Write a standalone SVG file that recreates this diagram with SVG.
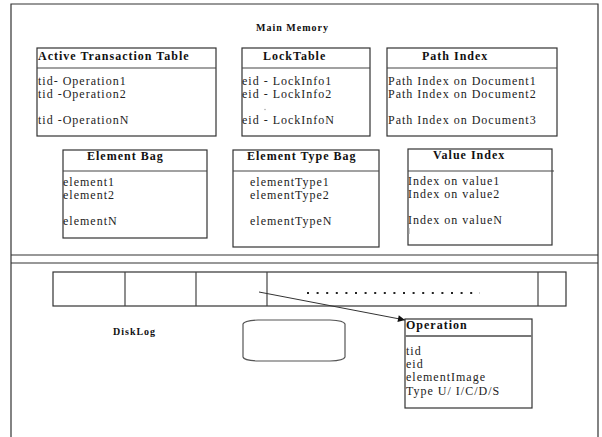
<svg xmlns="http://www.w3.org/2000/svg" width="602" height="437" viewBox="0 0 602 437">
  <defs>
    <style>
      .frame { stroke: #333; stroke-width: 1.2; fill: none; }
      .box { fill: #fff; stroke: #333; stroke-width: 1.2; }
      .sep { stroke: #444; stroke-width: 1.2; }
      .hd { font-family: "Liberation Serif", "Times New Roman", serif; font-weight: bold; font-size: 12px; letter-spacing: 1px; fill: #111; }
      .tx { font-family: "Liberation Serif", "Times New Roman", serif; font-size: 12px; letter-spacing: 1px; fill: #222; }
      .lbl { font-family: "Liberation Serif", "Times New Roman", serif; font-weight: bold; font-size: 10px; letter-spacing: 1px; fill: #111; }
      .conn { stroke: #333; stroke-width: 1; fill: none; }
    </style>
    <marker id="arrow" viewBox="0 0 10 10" refX="10" refY="5" markerWidth="10" markerHeight="7" markerUnits="userSpaceOnUse" orient="auto">
      <path d="M0,0 L10,5 L0,10 Z" fill="#111"/>
    </marker>
  </defs>

  <rect width="602" height="437" fill="#fff"/>

  <!-- outer frame and memory / disk divider -->
  <g id="frame">
    <path class="frame" d="M11,437 L11,4 L598,4 L598,437"/>
    <line class="frame" x1="11" y1="255" x2="598" y2="255"/>
    <line class="frame" x1="11" y1="263" x2="598" y2="263"/>
    <text class="lbl" x="256" y="31">Main Memory</text>
  </g>

  <g id="active-transaction-table">
    <rect class="box" x="37" y="48" width="179" height="88"/>
    <line class="sep" x1="37" y1="68" x2="216" y2="68"/>
    <text class="hd" x="38" y="60">Active Transaction Table</text>
    <text class="tx" x="38" y="85">tid- Operation1</text>
    <text class="tx" x="38" y="98">tid -Operation2</text>
    <text class="tx" x="38" y="124">tid -OperationN</text>
  </g>

  <g id="lock-table">
    <rect class="box" x="242" y="48" width="128" height="88"/>
    <line class="sep" x1="242" y1="68" x2="370" y2="68"/>
    <text class="hd" x="263" y="60">LockTable</text>
    <text class="tx" x="242" y="85">eid - LockInfo1</text>
    <text class="tx" x="242" y="98">eid - LockInfo2</text>
    <circle cx="265" cy="109.5" r="0.7" fill="#999"/>
    <text class="tx" x="242" y="124">eid - LockInfoN</text>
  </g>

  <g id="path-index">
    <rect class="box" x="387" y="48" width="170" height="88"/>
    <line class="sep" x1="387" y1="68" x2="557" y2="68"/>
    <text class="hd" x="422" y="60">Path Index</text>
    <text class="tx" x="388" y="85">Path Index on Document1</text>
    <text class="tx" x="388" y="98">Path Index on Document2</text>
    <text class="tx" x="388" y="124">Path Index on Document3</text>
  </g>

  <g id="element-bag">
    <rect class="box" x="63" y="150" width="144" height="88"/>
    <line class="sep" x1="63" y1="171" x2="207" y2="171"/>
    <text class="hd" x="87" y="160">Element Bag</text>
    <text class="tx" x="63" y="186">element1</text>
    <text class="tx" x="63" y="199">element2</text>
    <text class="tx" x="63" y="225">elementN</text>
  </g>

  <g id="element-type-bag">
    <rect class="box" x="233" y="150" width="146" height="97"/>
    <line class="sep" x1="233" y1="171" x2="379" y2="171"/>
    <text class="hd" x="247" y="160">Element Type Bag</text>
    <text class="tx" x="250" y="186">elementType1</text>
    <text class="tx" x="250" y="199">elementType2</text>
    <text class="tx" x="250" y="225">elementTypeN</text>
  </g>

  <g id="value-index">
    <rect class="box" x="408" y="149" width="144" height="96"/>
    <line class="sep" x1="408" y1="171" x2="554" y2="171"/>
    <text class="hd" x="433" y="159">Value Index</text>
    <text class="tx" x="408" y="185">Index on value1</text>
    <text class="tx" x="408" y="198">Index on value2</text>
    <text class="tx" x="408" y="224">Index on valueN</text>
    <line x1="409" y1="228" x2="409" y2="234" stroke="#999" stroke-width="1"/>
  </g>

  <!-- log buffer strip -->
  <g id="disk-log">
    <rect class="box" x="53" y="272" width="513" height="34"/>
    <line class="sep" x1="125" y1="272" x2="125" y2="306"/>
    <line class="sep" x1="196" y1="272" x2="196" y2="306"/>
    <line class="sep" x1="267" y1="272" x2="267" y2="306"/>
    <line class="sep" x1="538" y1="272" x2="538" y2="306"/>
    <line x1="307" y1="293" x2="480" y2="293" stroke="#222" stroke-width="2" stroke-dasharray="2 7.6"/>
    <text class="lbl" x="113" y="335">DiskLog</text>
  </g>

  <g id="disk">
    <path d="M243,324 Q244,320.5 258,320 L330,320 Q344,320.5 345,324 L345,357 Q344,360.5 330,361 L258,361 Q244,360.5 243,357 Z" fill="#fff" stroke="#555" stroke-width="1.2"/>
  </g>

  <g id="operation">
    <rect class="box" x="405" y="319" width="127" height="89"/>
    <line x1="405" y1="336" x2="532" y2="336" stroke="#777" stroke-width="2"/>
    <text class="hd" x="406" y="329">Operation</text>
    <text class="tx" x="406" y="355">tid</text>
    <text class="tx" x="406" y="368">eid</text>
    <text class="tx" x="406" y="381">elementImage</text>
    <text class="tx" x="406" y="395">Type U/ I/C/D/S</text>
  </g>

  <g id="connectors">
    <line class="conn" x1="259" y1="292" x2="405" y2="320" marker-end="url(#arrow)"/>
  </g>
</svg>
